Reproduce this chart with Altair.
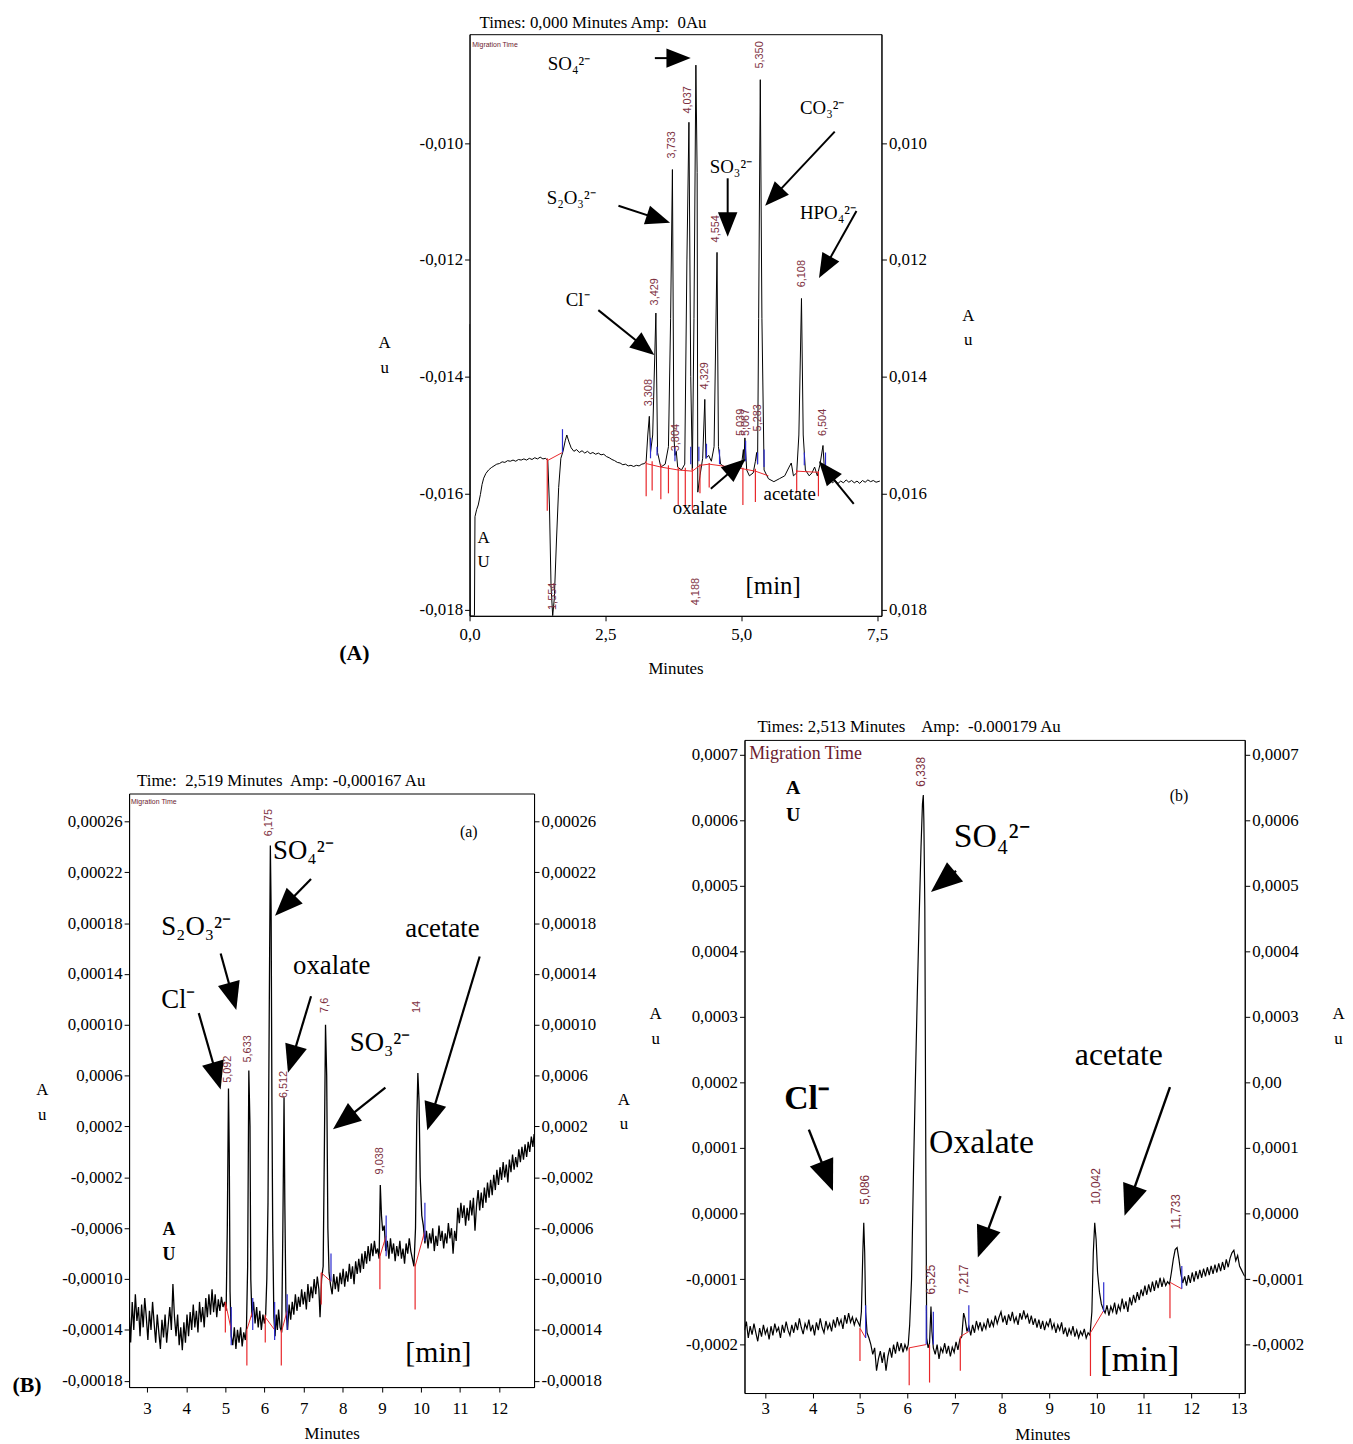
import math
import altair as alt
import pandas as pd

SERIF = "Liberation Serif"
SANS = "Liberation Sans"
LABEL_RED = "#7d3040"
MIG_RED = "#6b1a2e"
INT_RED = "#e8262a"
INT_BLUE = "#2b2bd0"
ARROW_PATH = "M0,-1L0.8,1L-0.8,1Z"

# ---------------- Panel (A): values in mAU ----------------
A_TRACE = [
    (0.00, -13.10), (0.01, -18.10), (0.09, -18.10), (0.10, -16.40), (0.13, -16.28), (0.16, -16.20),
    (0.20, -16.02), (0.23, -15.85), (0.26, -15.74), (0.30, -15.66), (0.35, -15.60), (0.40, -15.56),
    (0.45, -15.53), (0.50, -15.50), (0.55, -15.49), (0.60, -15.46), (0.65, -15.47), (0.70, -15.44),
    (0.75, -15.45), (0.80, -15.43), (0.85, -15.45), (0.90, -15.42), (0.95, -15.43), (1.00, -15.41),
    (1.05, -15.43), (1.10, -15.40), (1.15, -15.42), (1.20, -15.39), (1.25, -15.41), (1.30, -15.38),
    (1.35, -15.41), (1.40, -15.40), (1.44, -15.44), (1.47, -16.20), (1.50, -17.60), (1.53, -18.10),
    (1.56, -17.80), (1.60, -16.80), (1.64, -15.90), (1.68, -15.40), (1.72, -15.28), (1.76, -15.10),
    (1.79, -15.00), (1.83, -15.12), (1.87, -15.22), (1.92, -15.28), (1.97, -15.25), (2.02, -15.30),
    (2.07, -15.27), (2.12, -15.31), (2.17, -15.28), (2.22, -15.32), (2.27, -15.30), (2.32, -15.33),
    (2.37, -15.31), (2.42, -15.34), (2.47, -15.33), (2.52, -15.37), (2.57, -15.39), (2.62, -15.42),
    (2.67, -15.44), (2.72, -15.47), (2.77, -15.48), (2.82, -15.51), (2.87, -15.50), (2.92, -15.53),
    (2.97, -15.52), (3.02, -15.54), (3.07, -15.52), (3.12, -15.53), (3.17, -15.50), (3.22, -15.49),
    (3.25, -15.45), (3.28, -15.00), (3.308, -14.68), (3.33, -15.30), (3.37, -15.00), (3.429, -12.91),
    (3.46, -15.30), (3.52, -15.55), (3.60, -15.50), (3.66, -15.20), (3.70, -13.00), (3.733, -10.45),
    (3.76, -15.00), (3.78, -15.35), (3.804, -15.28), (3.83, -15.55), (3.90, -15.60), (3.96, -15.50),
    (4.00, -12.00), (4.037, -9.64), (4.07, -14.00), (4.10, -15.60), (4.13, -13.00), (4.165, -8.66),
    (4.188, -10.50), (4.20, -15.98), (4.24, -15.70), (4.29, -15.40), (4.329, -14.39), (4.35, -15.40),
    (4.40, -15.35), (4.45, -15.45), (4.50, -15.20), (4.554, -11.87), (4.58, -15.20), (4.62, -15.50),
    (4.70, -15.55), (4.80, -15.60), (4.90, -15.65), (5.00, -15.55), (5.039, -15.25), (5.05, -15.45),
    (5.067, -15.05), (5.10, -15.60), (5.15, -15.70), (5.22, -15.65), (5.26, -15.45), (5.283, -15.30),
    (5.30, -15.50), (5.32, -13.00), (5.35, -8.91), (5.38, -13.00), (5.42, -15.60), (5.50, -15.75),
    (5.60, -15.80), (5.70, -15.75), (5.80, -15.70), (5.88, -15.55), (5.92, -15.48), (5.96, -15.70),
    (6.02, -15.65), (6.06, -15.00), (6.108, -12.66), (6.14, -15.00), (6.18, -15.60), (6.25, -15.70),
    (6.30, -15.65), (6.35, -15.55), (6.40, -15.70), (6.45, -15.50), (6.504, -15.18), (6.53, -15.60),
    (6.58, -15.80), (6.63, -15.76), (6.68, -15.82), (6.73, -15.78), (6.78, -15.83), (6.83, -15.79),
    (6.88, -15.82), (6.93, -15.77), (6.98, -15.81), (7.03, -15.78), (7.08, -15.82), (7.13, -15.79),
    (7.18, -15.83), (7.23, -15.78), (7.28, -15.81), (7.33, -15.77), (7.38, -15.80), (7.43, -15.78),
    (7.48, -15.81), (7.55, -15.79),
]
A_RED_TICKS = [(1.43, -15.40, -16.30), (3.25, -15.45, -16.05), (3.36, -15.45, -15.95), (3.52, -15.50, -16.10),
               (3.66, -15.52, -16.00), (3.84, -15.55, -16.20), (3.97, -15.56, -16.25), (4.10, -15.57, -16.30),
               (4.24, -15.50, -16.00), (4.41, -15.48, -15.90), (5.03, -15.56, -16.20), (5.26, -15.58, -16.15),
               (6.02, -15.60, -16.00), (6.42, -15.62, -16.05)]
A_BLUE_TICKS = [(1.71, -15.30, -14.90), (3.33, -15.40, -15.05), (3.45, -15.35, -15.20), (3.78, -15.45, -15.20),
                (4.07, -15.50, -15.20), (4.22, -15.45, -15.20), (4.36, -15.40, -15.15), (4.60, -15.50, -15.25),
                (5.08, -15.45, -15.10), (5.30, -15.50, -15.30), (5.42, -15.55, -15.25), (6.16, -15.52, -15.30),
                (6.55, -15.55, -15.30)]
A_RED_LINES = [(1.43, -15.44, 1.71, -15.30), (3.25, -15.49, 3.52, -15.55), (3.52, -15.55, 3.84, -15.60),
               (3.84, -15.60, 4.10, -15.62), (4.10, -15.62, 4.24, -15.52), (4.24, -15.52, 4.41, -15.50),
               (4.41, -15.50, 5.03, -15.58), (5.03, -15.58, 5.26, -15.62), (5.26, -15.62, 5.50, -15.70),
               (6.02, -15.62, 6.42, -15.64)]
A_PEAK_LABELS = [(1.53, -18.05, "1,554"), (3.31, -14.56, "3,308"), (3.41, -12.83, "3,429"), (3.80, -15.33, "3,804"),
                 (3.73, -10.31, "3,733"), (4.02, -9.54, "4,037"), (4.16, -17.97, "4,188"), (4.33, -14.27, "4,329"),
                 (4.53, -11.75, "4,554"), (5.00, -15.07, "5,039"), (5.08, -15.07, "5,067"), (5.30, -14.99, "5,283"),
                 (5.35, -8.77, "5,350"), (6.12, -12.52, "6,108"), (6.50, -15.07, "6,504")]
A_ARROWS = [(3.41, -8.54, 4.07, -8.54), (2.74, -11.07, 3.69, -11.36), (4.75, -10.60, 4.75, -11.60),
            (6.72, -9.80, 5.44, -11.07), (7.12, -11.16, 6.43, -12.31), (2.37, -12.86, 3.40, -13.63),
            (4.44, -15.92, 5.08, -15.41), (7.07, -16.18, 6.43, -15.45)]
A_TEXTS = [
    (1.44, -8.64, "SO₄²⁻", 19, "left", "normal", SERIF, "black"),
    (1.42, -10.94, "S₂O₃²⁻", 19, "left", "normal", SERIF, "black"),
    (4.42, -10.41, "SO₃²⁻", 19, "left", "normal", SERIF, "black"),
    (6.08, -9.40, "CO₃²⁻", 19, "left", "normal", SERIF, "black"),
    (6.08, -11.19, "HPO₄²⁻", 19, "left", "normal", SERIF, "black"),
    (1.77, -12.69, "Cl⁻", 19, "left", "normal", SERIF, "black"),
    (3.74, -16.26, "oxalate", 19, "left", "normal", SERIF, "black"),
    (5.41, -16.01, "acetate", 19, "left", "normal", SERIF, "black"),
    (5.08, -17.59, "[min]", 25, "left", "normal", SERIF, "black"),
    (0.26, -16.77, "A", 17, "center", "normal", SERIF, "black"),
    (0.26, -17.18, "U", 17, "center", "normal", SERIF, "black"),
    (0.05, -8.31, "Migration Time", 7, "left", "normal", SANS, MIG_RED),
    (-2.12, -18.73, "(A)", 22, "center", "bold", SERIF, "black"),
]
A_XTICKS = [0.0, 2.5, 5.0, 7.5]
A_XLABELS = ["0,0", "2,5", "5,0", "7,5"]
A_YTICKS = [-0.010, -0.012, -0.014, -0.016, -0.018]
A_YLABELS_LEFT = ["-0,010", "-0,012", "-0,014", "-0,016", "-0,018"]
A_YLABELS_RIGHT = ["0,010", "0,012", "0,014", "0,016", "0,018"]

# ---------------- Panel (B)(a): values in µAU ----------------
B1_TRACE = [
    (2.54, -125), (2.58, -150), (2.62, -118), (2.66, -140), (2.70, -112), (2.74, -133), (2.78, -122), (2.82, -145),
    (2.86, -120), (2.90, -138), (2.94, -115), (2.98, -130), (3.02, -148), (3.06, -125), (3.10, -140), (3.14, -118),
    (3.18, -135), (3.22, -150), (3.26, -128), (3.30, -142), (3.34, -155), (3.38, -132), (3.42, -146), (3.46, -128),
    (3.50, -150), (3.54, -136), (3.58, -122), (3.62, -140), (3.66, -104), (3.70, -130), (3.74, -145), (3.78, -128),
    (3.82, -152), (3.86, -138), (3.90, -156), (3.94, -134), (3.98, -150), (4.02, -128), (4.06, -145), (4.10, -126),
    (4.14, -140), (4.18, -120), (4.22, -138), (4.26, -125), (4.30, -142), (4.34, -118), (4.38, -134), (4.42, -122),
    (4.46, -138), (4.50, -115), (4.54, -130), (4.58, -112), (4.62, -128), (4.66, -108), (4.70, -126), (4.74, -112),
    (4.78, -130), (4.82, -116), (4.86, -125), (4.90, -114), (4.94, -122), (4.98, -118), (5.02, -125), (5.05, -60),
    (5.08, 50), (5.10, 0), (5.12, -110), (5.15, -145), (5.19, -152), (5.23, -138), (5.27, -155), (5.31, -140),
    (5.35, -150), (5.39, -138), (5.43, -153), (5.47, -142), (5.51, -148), (5.54, -138), (5.57, -90), (5.60, 64),
    (5.63, 20), (5.65, -100), (5.68, -130), (5.72, -118), (5.76, -135), (5.80, -122), (5.84, -138), (5.88, -125),
    (5.92, -140), (5.96, -128), (6.00, -135), (6.03, -128), (6.06, -100), (6.09, -40), (6.12, 100), (6.15, 241),
    (6.17, 190), (6.19, 40), (6.21, -60), (6.24, -130), (6.27, -145), (6.30, -128), (6.33, -140), (6.36, -124),
    (6.40, -138), (6.44, -142), (6.47, -60), (6.50, 43), (6.52, -40), (6.55, -125), (6.59, -140), (6.63, -120),
    (6.67, -132), (6.71, -118), (6.75, -128), (6.79, -112), (6.83, -125), (6.87, -114), (6.91, -122), (6.95, -108),
    (6.99, -120), (7.03, -110), (7.07, -124), (7.11, -104), (7.15, -118), (7.19, -106), (7.23, -115), (7.27, -100),
    (7.31, -112), (7.35, -98), (7.39, -108), (7.42, -130), (7.46, -100), (7.50, -90), (7.53, 0), (7.56, 100),
    (7.59, 60), (7.62, -60), (7.65, -95), (7.69, -105), (7.73, -112), (7.77, -96), (7.81, -108), (7.85, -98),
    (7.89, -110), (7.93, -95), (7.97, -104), (8.01, -92), (8.05, -106), (8.09, -94), (8.13, -102), (8.17, -88),
    (8.21, -100), (8.25, -90), (8.29, -104), (8.33, -86), (8.37, -96), (8.41, -84), (8.45, -95), (8.49, -80),
    (8.53, -92), (8.57, -78), (8.61, -88), (8.65, -74), (8.69, -86), (8.73, -72), (8.77, -82), (8.81, -70),
    (8.85, -80), (8.89, -76), (8.93, -84), (8.96, -26), (8.99, -50), (9.02, -62), (9.06, -58), (9.10, -78),
    (9.14, -70), (9.18, -84), (9.22, -68), (9.26, -80), (9.30, -72), (9.34, -86), (9.38, -74), (9.42, -82),
    (9.46, -70), (9.50, -84), (9.54, -76), (9.58, -88), (9.62, -72), (9.66, -80), (9.70, -68), (9.74, -78),
    (9.78, -84), (9.82, -90), (9.86, -60), (9.89, 20), (9.92, 62), (9.95, 40), (9.98, -20), (10.02, -50),
    (10.06, -58), (10.10, -72), (10.14, -62), (10.18, -76), (10.22, -64), (10.26, -72), (10.30, -60), (10.34, -78),
    (10.38, -66), (10.42, -74), (10.46, -58), (10.50, -70), (10.54, -62), (10.58, -76), (10.62, -64), (10.66, -72),
    (10.70, -56), (10.74, -68), (10.78, -60), (10.82, -80), (10.86, -62), (10.90, -70), (10.94, -44), (10.98, -56),
    (11.02, -40), (11.06, -52), (11.10, -42), (11.14, -58), (11.18, -44), (11.22, -54), (11.26, -38), (11.30, -50),
    (11.34, -36), (11.38, -62), (11.42, -42), (11.46, -30), (11.50, -46), (11.54, -32), (11.58, -44), (11.62, -28),
    (11.66, -40), (11.70, -24), (11.74, -36), (11.78, -22), (11.82, -34), (11.86, -18), (11.90, -30), (11.94, -14),
    (11.98, -26), (12.02, -12), (12.06, -22), (12.10, -8), (12.14, -20), (12.18, -10), (12.22, -24), (12.26, -6),
    (12.30, -16), (12.34, -2), (12.38, -14), (12.42, -4), (12.46, -12), (12.50, 2), (12.54, -8), (12.58, 4),
    (12.62, -6), (12.66, 6), (12.70, -4), (12.74, 8), (12.78, 0), (12.82, 12), (12.86, 4), (12.89, 14),
]
B1_RED_TICKS = [(5.00, -118, -142), (5.55, -140, -168), (6.02, -128, -150), (6.43, -140, -168),
                (7.45, -95, -120), (8.95, -80, -108), (9.85, -88, -124)]
B1_BLUE_TICKS = [(5.15, -152, -122), (5.70, -140, -115), (6.26, -148, -118), (6.58, -140, -112),
                 (7.70, -102, -80), (9.11, -82, -50), (10.10, -70, -40)]
B1_RED_LINES = [(5.00, -118, 5.15, -140), (5.55, -140, 5.70, -125), (6.02, -130, 6.26, -140),
                (6.43, -142, 6.58, -125), (7.45, -95, 7.70, -102), (8.95, -82, 9.11, -66), (9.85, -90, 10.10, -62)]
B1_PEAK_LABELS = [(5.08, 52, "5,092"), (5.59, 68, "5,633"), (6.12, 246, "6,175"), (6.50, 40, "6,512"),
                  (7.54, 107, "7,6"), (9.90, 107, "14"), (8.96, -20, "9,038")]
B1_ARROWS = [(7.19, 214.7, 6.27, 185.8), (4.88, 156.1, 5.28, 111.6), (4.32, 109.2, 4.88, 49.1),
             (7.19, 122.5, 6.60, 62.3), (9.09, 50.6, 7.75, 17.8), (11.50, 153.8, 10.16, 17.0)]
B1_TEXTS = [
    (6.22, 236.6, "SO₄²⁻", 27, "left", "normal", SERIF, "black"),
    (3.36, 177.2, "S₂O₃²⁻", 27, "left", "normal", SERIF, "black"),
    (3.36, 119.4, "Cl⁻", 27, "left", "normal", SERIF, "black"),
    (6.73, 145.9, "oxalate", 27, "left", "normal", SERIF, "black"),
    (8.18, 85.8, "SO₃²⁻", 27, "left", "normal", SERIF, "black"),
    (9.60, 175.6, "acetate", 27, "left", "normal", SERIF, "black"),
    (9.60, -158.0, "[min]", 30, "left", "normal", SERIF, "black"),
    (11.22, 252.0, "(a)", 16, "center", "normal", SERIF, "black"),
    (3.56, -61.1, "A", 18, "center", "bold", SERIF, "black"),
    (3.56, -81.4, "U", 18, "center", "bold", SERIF, "black"),
    (2.59, 275.6, "Migration Time", 7, "left", "normal", SANS, MIG_RED),
    (-0.07, -183.8, "(B)", 22, "center", "bold", SERIF, "black"),
]
B1_XTICKS = [3, 4, 5, 6, 7, 8, 9, 10, 11, 12]
B1_XLABELS = ["3", "4", "5", "6", "7", "8", "9", "10", "11", "12"]
B1_YTICKS = [0.00026, 0.00022, 0.00018, 0.00014, 0.00010, 0.00006, 0.00002,
             -0.00002, -0.00006, -0.00010, -0.00014, -0.00018]
B1_YLABELS = ["0,00026", "0,00022", "0,00018", "0,00014", "0,00010", "0,0006", "0,0002",
              "-0,0002", "-0,0006", "-0,00010", "-0,00014", "-0,00018"]

# ---------------- Panel (B)(b): values in µAU ----------------
B2_TRACE = [
    (2.56, -178), (2.60, -165), (2.64, -190), (2.68, -172), (2.72, -185), (2.76, -168), (2.80, -182), (2.84, -195),
    (2.88, -175), (2.92, -188), (2.96, -170), (3.00, -184), (3.04, -176), (3.08, -192), (3.12, -172), (3.16, -186),
    (3.20, -168), (3.24, -180), (3.28, -174), (3.32, -190), (3.36, -170), (3.40, -182), (3.44, -165), (3.48, -178),
    (3.52, -186), (3.56, -170), (3.60, -182), (3.64, -166), (3.68, -178), (3.72, -160), (3.76, -174), (3.80, -184),
    (3.84, -168), (3.88, -176), (3.92, -162), (3.96, -180), (4.00, -170), (4.04, -186), (4.08, -166), (4.12, -178),
    (4.16, -160), (4.20, -174), (4.24, -182), (4.28, -164), (4.32, -176), (4.36, -168), (4.40, -180), (4.44, -162),
    (4.48, -174), (4.52, -158), (4.56, -170), (4.60, -162), (4.64, -176), (4.68, -155), (4.72, -168), (4.76, -152),
    (4.80, -166), (4.84, -158), (4.88, -170), (4.92, -160), (4.96, -166), (5.00, -172), (5.03, -150), (5.06, -60),
    (5.08, -14), (5.10, -60), (5.12, -150), (5.15, -182), (5.19, -190), (5.23, -200), (5.27, -215), (5.31, -205),
    (5.35, -240), (5.39, -222), (5.43, -210), (5.47, -228), (5.51, -212), (5.55, -240), (5.59, -218), (5.63, -205),
    (5.67, -220), (5.71, -200), (5.75, -214), (5.79, -196), (5.83, -210), (5.87, -198), (5.91, -212), (5.95, -200),
    (5.99, -208), (6.02, -200), (6.05, -170), (6.09, -100), (6.13, 60), (6.17, 200), (6.21, 330), (6.25, 450),
    (6.29, 560), (6.32, 625), (6.338, 639), (6.35, 600), (6.37, 470), (6.39, 100), (6.41, -190), (6.44, -205),
    (6.47, -198), (6.50, -142), (6.52, -180), (6.55, -205), (6.59, -215), (6.63, -200), (6.67, -222), (6.71, -205),
    (6.75, -212), (6.79, -198), (6.83, -214), (6.87, -202), (6.91, -218), (6.95, -204), (6.99, -212), (7.03, -196),
    (7.07, -208), (7.11, -192), (7.15, -188), (7.19, -152), (7.22, -160), (7.26, -180), (7.30, -172), (7.34, -186),
    (7.38, -170), (7.42, -182), (7.46, -164), (7.50, -176), (7.54, -166), (7.58, -180), (7.62, -168), (7.66, -176),
    (7.70, -160), (7.74, -174), (7.78, -164), (7.82, -172), (7.86, -156), (7.90, -168), (7.94, -158), (7.98, -150),
    (8.02, -166), (8.06, -156), (8.10, -170), (8.14, -154), (8.18, -164), (8.22, -150), (8.26, -166), (8.30, -158),
    (8.34, -170), (8.38, -152), (8.42, -162), (8.46, -148), (8.50, -160), (8.54, -154), (8.58, -168), (8.62, -156),
    (8.66, -170), (8.70, -160), (8.74, -174), (8.78, -162), (8.82, -176), (8.86, -164), (8.90, -178), (8.94, -166),
    (8.98, -172), (9.02, -160), (9.06, -176), (9.10, -168), (9.14, -182), (9.18, -170), (9.22, -178), (9.26, -166),
    (9.30, -184), (9.34, -174), (9.38, -188), (9.42, -176), (9.46, -184), (9.50, -172), (9.54, -188), (9.58, -178),
    (9.62, -190), (9.66, -180), (9.70, -186), (9.74, -176), (9.78, -190), (9.82, -182), (9.86, -186), (9.90, -150),
    (9.93, -60), (9.96, -14), (9.99, -40), (10.02, -90), (10.06, -120), (10.10, -138), (10.14, -146), (10.18, -152),
    (10.22, -140), (10.26, -156), (10.30, -142), (10.34, -150), (10.38, -136), (10.42, -154), (10.46, -140),
    (10.50, -148), (10.54, -130), (10.58, -146), (10.62, -134), (10.66, -150), (10.70, -128), (10.74, -140),
    (10.78, -124), (10.82, -136), (10.86, -120), (10.90, -132), (10.94, -116), (10.98, -126), (11.02, -110),
    (11.06, -124), (11.10, -108), (11.14, -120), (11.18, -104), (11.22, -118), (11.26, -102), (11.30, -114),
    (11.34, -98), (11.38, -112), (11.42, -100), (11.46, -110), (11.50, -104), (11.54, -108), (11.58, -90),
    (11.62, -70), (11.66, -55), (11.70, -52), (11.74, -70), (11.78, -92), (11.82, -106), (11.86, -96),
    (11.90, -110), (11.94, -94), (11.98, -106), (12.02, -90), (12.06, -104), (12.10, -88), (12.14, -100),
    (12.18, -86), (12.22, -98), (12.26, -84), (12.30, -96), (12.34, -82), (12.38, -94), (12.42, -80), (12.46, -92),
    (12.50, -78), (12.54, -90), (12.58, -76), (12.62, -88), (12.66, -74), (12.70, -86), (12.74, -70), (12.78, -82),
    (12.82, -68), (12.86, -60), (12.90, -56), (12.94, -72), (12.98, -64), (13.02, -80), (13.06, -86), (13.10, -92),
    (13.13, -96),
]
B2_RED_TICKS = [(5.00, -175, -225), (6.04, -205, -262), (6.47, -200, -258), (7.12, -188, -240),
                (9.87, -182, -248), (11.55, -108, -160)]
B2_BLUE_TICKS = [(5.12, -190, -140), (6.40, -200, -140), (6.55, -200, -150), (7.30, -180, -140),
                 (10.15, -150, -105), (11.80, -115, -80)]
B2_RED_LINES = [(5.00, -175, 5.12, -190), (6.04, -205, 6.40, -200), (7.12, -188, 7.30, -180),
                (9.87, -182, 10.15, -148), (11.55, -105, 11.80, -115)]
B2_PEAK_LABELS = [(5.10, 9, "5,086"), (6.29, 647, "6,338"), (6.50, -128, "6,525"), (7.19, -128, "7,217"),
                  (9.98, 9, "10,042"), (11.68, -29, "11,733")]
B2_ARROWS = [(7.03, 523, 6.50, 491), (3.92, 128, 4.43, 34.3), (7.97, 26.7, 7.49, -67), (11.55, 193, 10.59, -3.5)]
B2_TEXTS = [
    (6.98, 574, "SO₄²⁻", 34, "left", "normal", SERIF, "black"),
    (3.40, 175, "Cl⁻", 34, "left", "bold", SERIF, "black"),
    (6.46, 108, "Oxalate", 34, "left", "normal", SERIF, "black"),
    (9.54, 241.6, "acetate", 32, "left", "normal", SERIF, "black"),
    (10.07, -223, "[min]", 36, "left", "normal", SERIF, "black"),
    (11.74, 638, "(b)", 16, "center", "normal", SERIF, "black"),
    (3.59, 650, "A", 20, "center", "bold", SERIF, "black"),
    (3.59, 609, "U", 20, "center", "bold", SERIF, "black"),
    (2.66, 701, "Migration Time", 18, "left", "normal", SERIF, MIG_RED),
]
B2_XTICKS = [3, 4, 5, 6, 7, 8, 9, 10, 11, 12, 13]
B2_XLABELS = ["3", "4", "5", "6", "7", "8", "9", "10", "11", "12", "13"]
B2_YTICKS = [0.0007, 0.0006, 0.0005, 0.0004, 0.0003, 0.0002, 0.0001, 0.0, -0.0001, -0.0002]
B2_YLABELS_LEFT = ["0,0007", "0,0006", "0,0005", "0,0004", "0,0003", "0,0002", "0,0001", "0,0000",
                   "-0,0001", "-0,0002"]
B2_YLABELS_RIGHT = ["0,0007", "0,0006", "0,0005", "0,0004", "0,0003", "0,00", "0,0001", "0,0000",
                    "-0,0001", "-0,0002"]


def lab_expr(vals, labs, eps):
    expr = ""
    for v, l in zip(vals, labs):
        expr += f"abs(datum.value - ({v!r})) < {eps} ? '{l}' : "
    return expr + "''"


def build_panel(p):
    xd, yd, W, H, unit = p["xdom"], p["ydom"], p["width"], p["height"], p["unit"]
    xs = alt.Scale(domain=xd, zero=False, nice=False)
    ys = alt.Scale(domain=yd, zero=False, nice=False)
    kx = W / (xd[1] - xd[0])
    ky = H / (yd[1] - yd[0])
    ystep = abs(p["yticks"][0] - p["yticks"][1])

    def X(f):
        return alt.X(f"{f}:Q", scale=xs, axis=None)

    def Y(f):
        return alt.Y(f"{f}:Q", scale=ys, axis=None)

    tr = pd.DataFrame(p["trace"], columns=["t", "v"])
    tr["v"] = tr["v"] * unit

    xaxis = alt.Axis(values=p["xticks"], labelExpr=lab_expr(p["xticks"], p["xlabels"], 1e-6),
                     title="Minutes", tickSize=5, labelPadding=p["xlab_pad"], titlePadding=p["xtitle_pad"],
                     labelFlush=False, labelOverlap=False, **p.get("xaxis_extra", {}))
    yleft = alt.Axis(orient="left", values=p["yticks"],
                     labelExpr=lab_expr(p["yticks"], p["ylabels_left"], ystep * 1e-3),
                     title=["A", "u"], titleAngle=0, titleX=p["ltx"], titleY=p["lty"],
                     titleAlign="center", titleBaseline="middle", titleLineHeight=25,
                     tickSize=5, labelPadding=2, labelOverlap=False)
    yright = alt.Axis(orient="right", values=p["yticks"],
                      labelExpr=lab_expr(p["yticks"], p["ylabels_right"], ystep * 1e-3),
                      title=["A", "u"], titleAngle=0, titleX=p["rtx"], titleY=p["rty"],
                      titleAlign="center", titleBaseline="middle", titleLineHeight=25,
                      tickSize=5, labelPadding=2, labelOverlap=False)

    layers = []
    layers.append(alt.Chart(tr).mark_line(color="black", strokeWidth=p["lw"], clip=True).encode(
        x=alt.X("t:Q", scale=xs, axis=xaxis, title="Minutes"), y=alt.Y("v:Q", scale=ys, axis=yleft)))
    layers.append(alt.Chart(tr).mark_line(opacity=0).encode(
        x=X("t"), y=alt.Y("v:Q", scale=ys, axis=yright)))

    # integration marks
    rl = pd.DataFrame(p["red_lines"], columns=["t1", "v1", "t2", "v2"])
    for c in ["v1", "v2"]:
        rl[c] = rl[c] * unit
    layers.append(alt.Chart(rl).mark_rule(color=INT_RED, strokeWidth=1).encode(
        x=X("t1"), y=Y("v1"), x2="t2:Q", y2="v2:Q"))
    for ticks, col in [(p["red_ticks"], INT_RED), (p["blue_ticks"], INT_BLUE)]:
        d = pd.DataFrame(ticks, columns=["t", "v1", "v2"])
        d["v1"] = d["v1"] * unit
        d["v2"] = d["v2"] * unit
        layers.append(alt.Chart(d).mark_rule(color=col, strokeWidth=1.2).encode(
            x=X("t"), y=Y("v1"), y2="v2:Q"))

    # peak labels (rotated)
    pl = pd.DataFrame(p["peak_labels"], columns=["t", "v", "label"])
    pl["v"] = pl["v"] * unit
    layers.append(alt.Chart(pl).mark_text(angle=270, align="left", baseline="middle", dx=3,
                                          font=SANS, fontSize=p["plfs"], color=LABEL_RED).encode(
        x=X("t"), y=Y("v"), text="label:N"))

    # arrows
    rows = []
    s = math.sqrt(p["head_size"]) / 2.0
    for tt, vt, th, vh in p["arrows"]:
        dx = (th - tt) * kx
        dy = -(vh - vt) * unit * ky
        L = math.hypot(dx, dy)
        ux, uy = dx / L, dy / L
        ang = math.degrees(math.atan2(ux, -uy)) % 360
        tc = th - ux * s / kx
        vc = vh * unit + uy * s / ky
        rows.append({"t1": tt, "v1": vt * unit, "t2": tc, "v2": vc, "ang": ang})
    ad = pd.DataFrame(rows)
    layers.append(alt.Chart(ad).mark_rule(color="black", strokeWidth=p["arrow_w"]).encode(
        x=X("t1"), y=Y("v1"), x2="t2:Q", y2="v2:Q"))
    layers.append(alt.Chart(ad).mark_point(shape=ARROW_PATH, filled=True, color="black", opacity=1,
                                           size=p["head_size"], strokeWidth=0).encode(
        x=X("t2"), y=Y("v2"), angle=alt.Angle("ang:Q", scale=None)))

    # free texts grouped by style
    td = pd.DataFrame(p["texts"], columns=["t", "v", "label", "fs", "align", "weight", "font", "color"])
    td["v"] = td["v"] * unit
    for key, g in td.groupby(["align", "weight", "font", "color"], sort=False):
        al, wt, fn, co = key
        layers.append(alt.Chart(g.reset_index(drop=True)).mark_text(
            align=al, baseline="middle", font=fn, fontWeight=wt, color=co).encode(
            x=X("t"), y=Y("v"), text="label:N", size=alt.Size("fs:Q", scale=None)))

    return alt.layer(*layers).resolve_axis(x="independent", y="independent").properties(
        width=W, height=H,
        title=alt.TitleParams(p["title"], anchor="start", frame="group", dx=p["title_dx"],
                              offset=p["title_off"], font=SERIF, fontSize=17,
                              fontWeight="normal", color="black"))


panel_A = build_panel(dict(
    xdom=[0.0, 7.58], ydom=[-0.0181, -0.00813], width=415, height=586, unit=1e-3,
    trace=A_TRACE, red_ticks=A_RED_TICKS, blue_ticks=A_BLUE_TICKS, red_lines=A_RED_LINES,
    peak_labels=A_PEAK_LABELS, arrows=A_ARROWS, texts=A_TEXTS,
    xticks=A_XTICKS, xlabels=A_XLABELS, yticks=A_YTICKS,
    ylabels_left=A_YLABELS_LEFT, ylabels_right=A_YLABELS_RIGHT,
    ltx=-86, lty=311, rtx=87, rty=283, lw=1.0, plfs=11, head_size=600, arrow_w=2,
    xlab_pad=6, xtitle_pad=18, title="Times: 0,000 Minutes Amp:\u00a0 0Au", title_dx=10, title_off=2,
))

panel_a = build_panel(dict(
    xdom=[2.54, 12.89], ydom=[-0.000185, 0.000282], width=408, height=598, unit=1e-6,
    trace=B1_TRACE, red_ticks=B1_RED_TICKS, blue_ticks=B1_BLUE_TICKS, red_lines=B1_RED_LINES,
    peak_labels=B1_PEAK_LABELS, arrows=B1_ARROWS, texts=B1_TEXTS,
    xticks=B1_XTICKS, xlabels=B1_XLABELS, yticks=B1_YTICKS,
    ylabels_left=B1_YLABELS, ylabels_right=B1_YLABELS,
    ltx=-88, lty=298, rtx=90, rty=308, lw=1.3, plfs=11, head_size=800, arrow_w=2.2,
    xlab_pad=9, xtitle_pad=9, title="Time:\u00a0 2,519 Minutes\u00a0 Amp: -0,000167 Au", title_dx=8, title_off=4,
))

panel_b = build_panel(dict(
    xdom=[2.56, 13.13], ydom=[-0.000274, 0.000723], width=504, height=658, unit=1e-6,
    trace=B2_TRACE, red_ticks=B2_RED_TICKS, blue_ticks=B2_BLUE_TICKS, red_lines=B2_RED_LINES,
    peak_labels=B2_PEAK_LABELS, arrows=B2_ARROWS, texts=B2_TEXTS,
    xticks=B2_XTICKS, xlabels=B2_XLABELS, yticks=B2_YTICKS,
    ylabels_left=B2_YLABELS_LEFT, ylabels_right=B2_YLABELS_RIGHT,
    ltx=-90, lty=276, rtx=94, rty=276, lw=1.2, plfs=12, head_size=1000, arrow_w=2.4,
    xlab_pad=3, xtitle_pad=10, xaxis_extra=dict(titleX=300),
    title="Times: 2,513 Minutes\u00a0\u00a0\u00a0 Amp:\u00a0 -0.000179 Au", title_dx=13, title_off=4,
))


def spacer(w, h):
    return alt.Chart(pd.DataFrame({"s": [""]})).mark_text().encode(text="s:N").properties(
        width=w, height=h, view=alt.ViewBackground(stroke="transparent"))


# With bounds="flush", nested concat groups count as zero-size cells, so the
# outer spacings include the size of the nested group that precedes them.
row1 = alt.hconcat(spacer(343, 10), panel_A, spacing=0, bounds="flush")
left_col = alt.vconcat(spacer(1, 54), panel_a, spacing=0, bounds="flush")
row2 = alt.hconcat(left_col, panel_b, spacing=620, bounds="flush")

chart = alt.vconcat(row1, row2, spacing=711, bounds="flush").properties(
    padding={"left": 3, "top": 0, "right": 0, "bottom": 0}
).configure_view(stroke="black", strokeWidth=1).configure_axis(
    labelFont=SERIF, titleFont=SERIF, labelColor="black", titleColor="black",
    tickColor="black", domainColor="black", grid=False, labelFontSize=17,
    titleFontSize=17, titleFontWeight="normal",
).configure_title(font=SERIF)

chart.save("out.html", embed_options={"renderer": "svg", "actions": False})
